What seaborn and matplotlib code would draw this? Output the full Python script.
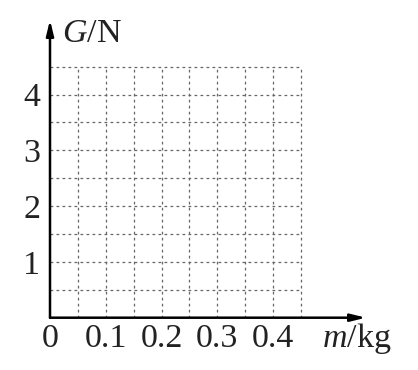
import numpy as np
import matplotlib
matplotlib.use("Agg")
import matplotlib.pyplot as plt
import seaborn as sns

# --- data / labels ---
x_tick_values = [0.0, 0.1, 0.2, 0.3, 0.4]
x_tick_labels = ["0", "0.1", "0.2", "0.3", "0.4"]
y_tick_values = [1, 2, 3, 4]
y_tick_labels = ["1", "2", "3", "4"]
grid_x_max = 0.45
grid_y_max = 4.5
grid_x_step = 0.05
grid_y_step = 0.5
x_label = r"$m$/kg"
y_label = r"$G$/N"

sns.set_style("white")
plt.rcParams["font.family"] = ["Liberation Serif", "DejaVu Serif"]
plt.rcParams["mathtext.fontset"] = "custom"
plt.rcParams["mathtext.rm"] = "Liberation Serif"
plt.rcParams["mathtext.it"] = "Liberation Serif:italic"

W, H = 418, 370
fig = plt.figure(figsize=(W / 100, H / 100), dpi=100)
x0px, y0px = 50, 317.7
scale = 558.0  # px per kg, and 55.8 px per N
xmax = (366 - x0px) / scale
ymax = (y0px - 20) / (scale / 10)
ax = fig.add_axes([x0px / W, (H - y0px) / H, (366 - x0px) / W, (y0px - 20) / H])
ax.set_xlim(0, xmax)
ax.set_ylim(0, ymax)

# dashed grid
gx = np.arange(1, round(grid_x_max / grid_x_step) + 1) * grid_x_step
gy = np.arange(1, round(grid_y_max / grid_y_step) + 1) * grid_y_step
dash = (0, (2.2, 2.6))
ax.vlines(gx, 0, grid_y_max, colors="#666666", linewidth=0.9, linestyles=[dash])
ax.hlines(gy, 0, grid_x_max, colors="#666666", linewidth=0.9, linestyles=[dash])

# axes with arrows
for s in ax.spines.values():
    s.set_visible(False)
arrow = dict(arrowstyle="-|>,head_length=0.9,head_width=0.22",
             color="black", lw=1.8, shrinkA=0, shrinkB=0)
ax.annotate("", xy=(xmax, 0), xytext=(0, 0), arrowprops=arrow, annotation_clip=False)
ax.annotate("", xy=(0, ymax), xytext=(0, 0), arrowprops=arrow, annotation_clip=False)

ax.set_xticks(x_tick_values, x_tick_labels)
ax.set_yticks(y_tick_values, y_tick_labels)
ax.tick_params(axis="both", length=0, labelsize=24.5, colors="#222222")
ax.tick_params(axis="x", pad=4)
ax.tick_params(axis="y", pad=7)

fig.text(62 / W, 1 - 34 / H, y_label, ha="left", va="center", fontsize=24.5, color="#222222")
fig.text(322 / W, 1 - 338 / H, x_label, ha="left", va="center", fontsize=24.5, color="#222222")

fig.savefig("out.png", dpi=100)
